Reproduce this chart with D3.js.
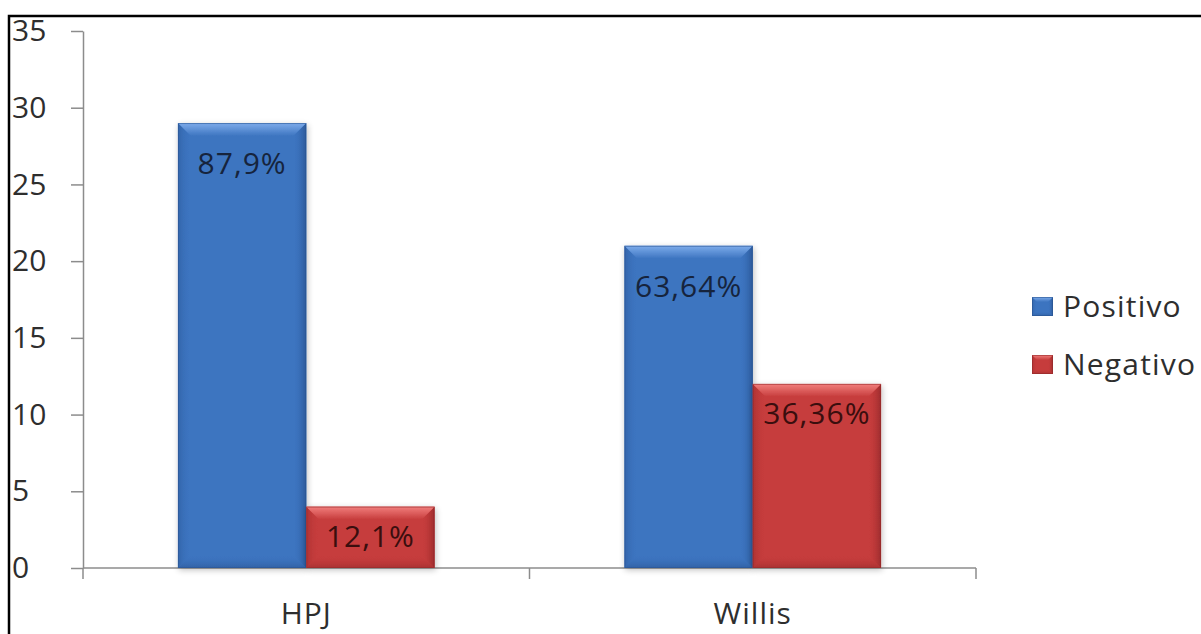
<!DOCTYPE html>
<html>
<head>
<meta charset="utf-8">
<script src="https://cdn.jsdelivr.net/npm/d3@7"></script>
<style>
  body { margin: 0; background: #fff; }
  svg { display: block; }
  svg text { font-family: "Open Sans", "Noto Sans", sans-serif; }
</style>
</head>
<body>
<div id="chart"></div>
<script>
// data
var categories = ['HPJ', 'Willis'];
var seriesNames = ['Positivo', 'Negativo'];
var positivo = [29, 21];
var negativo = [4, 12];
var labelsPositivo = ['87,9%', '63,64%'];
var labelsNegativo = ['12,1%', '36,36%'];
var yTicks = [0, 5, 10, 15, 20, 25, 30, 35];

var colors = {
  Positivo: {main: '#3c74c0', light: '#7eaceb', dark: '#2a5593', text: '#16243d', off: 51},
  Negativo: {main: '#c63c3c', light: '#f27f7d', dark: '#962a2b', text: '#3a0e0e', off: 40}
};

var width = 1201, height = 634;
var margin = {top: 31, right: 225, bottom: 66, left: 83};

var svg = d3.select('#chart').append('svg')
  .attr('width', width).attr('height', height);

// frame
svg.append('path')
  .attr('d', 'M9,' + height + 'V16H' + width)
  .attr('fill', 'none').attr('stroke', '#000').attr('stroke-width', 2.5);

var x0 = d3.scaleBand().domain(categories)
  .range([margin.left, width - margin.right])
  .paddingInner(0).paddingOuter(0);

var x1 = d3.scaleBand().domain(seriesNames)
  .range([0, x0.bandwidth()])
  .paddingInner(0).paddingOuter(0.74);

var y = d3.scaleLinear().domain([0, 35])
  .range([height - margin.bottom, margin.top]);

// y axis
var yAxis = svg.append('g')
  .attr('transform', 'translate(' + margin.left + ',0)')
  .call(d3.axisLeft(y).tickValues(yTicks).tickSize(12).tickSizeOuter(0));
yAxis.attr('font-family', null);
yAxis.select('.domain').attr('stroke', '#8c8c8c').attr('stroke-width', 1.5);
yAxis.selectAll('.tick line').attr('stroke', '#8c8c8c').attr('stroke-width', 1.5);
yAxis.selectAll('.tick text')
  .attr('font-size', 30).attr('fill', '#2e2e2e')
  .attr('text-anchor', 'start')
  .attr('x', -71);

// x axis: category ticks at band edges
var xAxis = svg.append('g')
  .attr('transform', 'translate(0,' + y(0) + ')');
xAxis.append('line')
  .attr('x1', margin.left).attr('x2', width - margin.right)
  .attr('stroke', '#8c8c8c').attr('stroke-width', 1.5);
var edges = categories.map(function (c) { return x0(c); }).concat([x0(categories[categories.length - 1]) + x0.bandwidth()]);
xAxis.selectAll('line.edge').data(edges).enter().append('line')
  .attr('class', 'edge')
  .attr('x1', function (d) { return d; }).attr('x2', function (d) { return d; })
  .attr('y1', 0).attr('y2', 11)
  .attr('stroke', '#8c8c8c').attr('stroke-width', 1.5);
xAxis.selectAll('text').data(categories).enter().append('text')
  .attr('x', function (d) { return x0(d) + x0.bandwidth() / 2; })
  .attr('y', 56)
  .attr('text-anchor', 'middle')
  .attr('font-size', 30).attr('fill', '#2e2e2e')
  .attr('letter-spacing', 1)
  .text(function (d) { return d; });

// bars
var rows = [];
categories.forEach(function (c, i) {
  rows.push({cat: c, s: 'Positivo', v: positivo[i], label: labelsPositivo[i]});
  rows.push({cat: c, s: 'Negativo', v: negativo[i], label: labelsNegativo[i]});
});

var defs = svg.append('defs');
var sh = defs.append('filter').attr('id', 'shadow').attr('x', '-20%').attr('y', '-20%').attr('width', '140%').attr('height', '140%');
sh.append('feGaussianBlur').attr('in', 'SourceAlpha').attr('stdDeviation', 3);
sh.append('feOffset').attr('dx', 1).attr('dy', 2).attr('result', 'b');
sh.append('feComponentTransfer').append('feFuncA').attr('type', 'linear').attr('slope', 0.25);
var mg = sh.append('feMerge');
mg.append('feMergeNode');
mg.append('feMergeNode').attr('in', 'SourceGraphic');

// gradients for the bevel faces
seriesNames.forEach(function (s) {
  var c = colors[s];
  var gt = defs.append('linearGradient').attr('id', 'top-' + s).attr('x1', 0).attr('y1', 0).attr('x2', 0).attr('y2', 1);
  gt.append('stop').attr('offset', 0).attr('stop-color', c.light);
  gt.append('stop').attr('offset', 1).attr('stop-color', c.main);
  var gl = defs.append('linearGradient').attr('id', 'left-' + s).attr('x1', 0).attr('y1', 0).attr('x2', 1).attr('y2', 0);
  gl.append('stop').attr('offset', 0).attr('stop-color', c.dark).attr('stop-opacity', 0.5);
  gl.append('stop').attr('offset', 1).attr('stop-color', c.main).attr('stop-opacity', 0);
  var gr = defs.append('linearGradient').attr('id', 'right-' + s).attr('x1', 1).attr('y1', 0).attr('x2', 0).attr('y2', 0);
  gr.append('stop').attr('offset', 0).attr('stop-color', c.dark).attr('stop-opacity', 0.9);
  gr.append('stop').attr('offset', 1).attr('stop-color', c.main).attr('stop-opacity', 0);
  var gb = defs.append('linearGradient').attr('id', 'bottom-' + s).attr('x1', 0).attr('y1', 1).attr('x2', 0).attr('y2', 0);
  gb.append('stop').attr('offset', 0).attr('stop-color', c.dark).attr('stop-opacity', 0.6);
  gb.append('stop').attr('offset', 1).attr('stop-color', c.main).attr('stop-opacity', 0);
});

function bevel(g, bx, by, bw, bh, s, b) {
  var c = colors[s];
  g.append('rect').attr('x', bx).attr('y', by).attr('width', bw).attr('height', bh)
    .attr('fill', c.main);
  g.append('polygon').attr('points', [[bx, by], [bx + b, by + b], [bx + b, by + bh - b], [bx, by + bh]].join(' '))
    .attr('fill', 'url(#left-' + s + ')');
  g.append('polygon').attr('points', [[bx + bw, by], [bx + bw - b, by + b], [bx + bw - b, by + bh - b], [bx + bw, by + bh]].join(' '))
    .attr('fill', 'url(#right-' + s + ')');
  g.append('polygon').attr('points', [[bx, by + bh], [bx + b, by + bh - b], [bx + bw - b, by + bh - b], [bx + bw, by + bh]].join(' '))
    .attr('fill', 'url(#bottom-' + s + ')');
  g.append('polygon').attr('points', [[bx, by], [bx + bw, by], [bx + bw - b, by + b], [bx + b, by + b]].join(' '))
    .attr('fill', 'url(#top-' + s + ')');
  g.append('rect').attr('x', bx + 0.5).attr('y', by + 0.5).attr('width', bw - 1).attr('height', bh - 1)
    .attr('fill', 'none').attr('stroke', c.dark).attr('stroke-opacity', 0.6);
}

var barsG = svg.append('g');
rows.forEach(function (d) {
  var bx = x0(d.cat) + x1(d.s);
  var bw = x1.bandwidth();
  var by = y(d.v);
  var bh = y(0) - y(d.v);
  var g = barsG.append('g').attr('filter', 'url(#shadow)');
  bevel(g, bx, by, bw, bh, d.s, 13);
});

// data labels
barsG.selectAll('text.lab').data(rows).enter().append('text')
  .attr('class', 'lab')
  .attr('x', function (d) { return x0(d.cat) + x1(d.s) + x1.bandwidth() / 2; })
  .attr('y', function (d) { return y(d.v) + colors[d.s].off; })
  .attr('text-anchor', 'middle')
  .attr('font-size', 30)
  .attr('letter-spacing', 1)
  .attr('fill', function (d) { return colors[d.s].text; })
  .text(function (d) { return d.label; });

// legend
var legend = svg.append('g').attr('transform', 'translate(1032,297)');
seriesNames.forEach(function (s, i) {
  var lg = legend.append('g').attr('transform', 'translate(0,' + (i * 58) + ')');
  bevel(lg, 0, 0, 21, 19, s, 5);
  lg.append('text').attr('x', 31).attr('y', 20)
    .attr('font-size', 30).attr('fill', '#2e2e2e')
    .attr('letter-spacing', 1.2)
    .text(s);
});
</script>
</body>
</html>
